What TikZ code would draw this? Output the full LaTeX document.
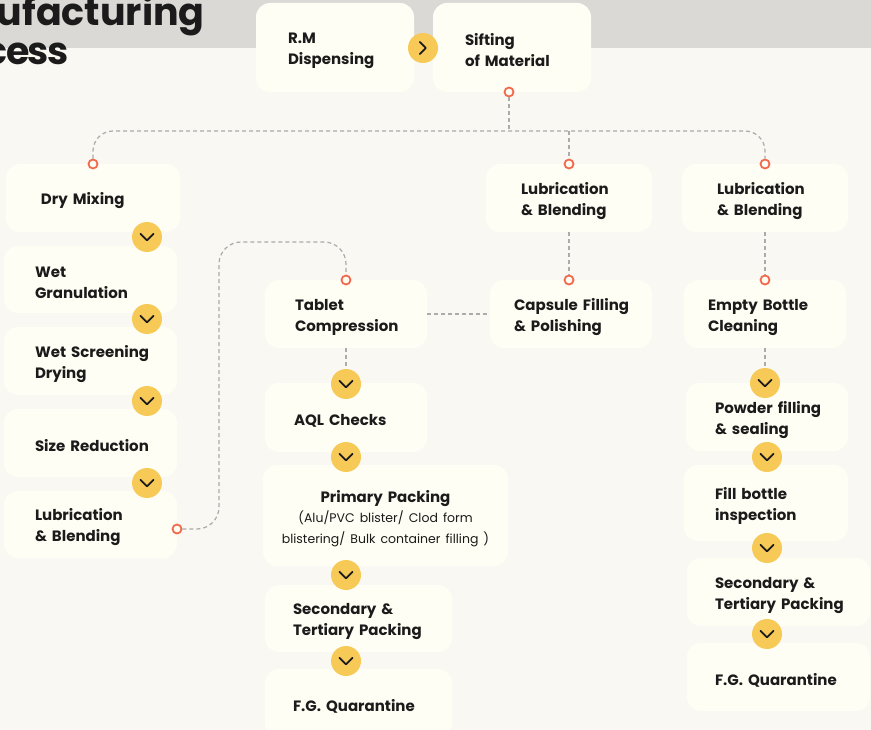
\documentclass[tikz,border=0pt]{standalone}
\usepackage{fontspec}
\setmainfont{Poppins}
\usepackage{xcolor}
\usetikzlibrary{arrows.meta,positioning,calc}

\definecolor{pagecream}{HTML}{FAF8F3}
\definecolor{bandgray}{HTML}{DBD9D5}
\definecolor{boxfill}{HTML}{FEFEF4}
\definecolor{badgeyellow}{HTML}{F7CA58}
\definecolor{ringred}{HTML}{F26A4D}
\definecolor{linkgray}{HTML}{ABABAB}
\definecolor{ink}{HTML}{1C1B1B}

\hyphenpenalty=10000
\exhyphenpenalty=10000
\newcommand{\packnote}{\mdseries\fontsize{12.5}{20}\selectfont}

\begin{document}
\begin{tikzpicture}[x=1pt, y=-1pt,
    stepbox/.style={fill=boxfill, rounded corners=14pt, text=ink, align=left, inner ysep=0pt,
        font=\bfseries\fontsize{15}{21}\selectfont, execute at begin node={\rule{0pt}{18pt}}},
    ring/.style={circle, draw=ringred, line width=1.8pt, fill=boxfill, minimum size=9pt, inner sep=0pt},
    downbadge/.style={circle, fill=badgeyellow, minimum size=30pt, inner sep=0pt,
        path picture={\draw[ink, line width=1.8pt, line cap=round, line join=round]
            ([xshift=-6.5pt, yshift=3.2pt]path picture bounding box.center) -- ++(6.5pt,-6.5pt) -- ++(6.5pt,6.5pt);}},
    rightbadge/.style={circle, fill=badgeyellow, minimum size=30pt, inner sep=0pt,
        path picture={\draw[ink, line width=1.8pt, line cap=round, line join=round]
            ([xshift=-3.2pt, yshift=6pt]path picture bounding box.center) -- ++(6pt,-6pt) -- ++(-6pt,-6pt);}},
    dashlink/.style={draw=linkgray, line width=1.2pt, dash pattern=on 4pt off 3pt}]

    \clip (0,0) rectangle (871,730);

    % Page and top band
    \fill[pagecream] (0,0) rectangle (871,730);
    \fill[bandgray] (0,0) rectangle (871,48);

    % Title (cut at the left edge)
    \node[anchor=base east, inner sep=0pt, text=ink, font=\bfseries\fontsize{38}{38}\selectfont] (titleA) at (205,26) {ufacturing};
    \node[anchor=base east, inner sep=0pt, text=ink, font=\bfseries\fontsize{38}{38}\selectfont] (titleB) at (69,65) {c\kern-1.5pt e\kern-1.5pt s\kern-1.5pt s};

    % Top row
    \node[stepbox, minimum width=158, minimum height=89, text width=94pt] (rm) at (335,47.5) {R.M\\Dispensing};
    \node[stepbox, minimum width=158, minimum height=89, text width=94pt] (sift) at (512,47.5) {Sifting\\of~Material};

    % Tablet line (left column)
    \node[stepbox, minimum width=174, minimum height=68, text width=104pt] (dry) at (93,198) {Dry~Mixing};
    \node[stepbox, minimum width=173, minimum height=67, text width=111pt] (wetg) at (90.5,279.5) {Wet\\Granulation};
    \node[stepbox, minimum width=173, minimum height=68, text width=111pt] (wets) at (90.5,361) {Wet~Screening\\Drying};
    \node[stepbox, minimum width=173, minimum height=68, text width=111pt] (size) at (90.5,443) {Size~Reduction};
    \node[stepbox, minimum width=173, minimum height=67, text width=111pt] (lubL) at (90.5,524.5) {Lubrication\\\&~Blending};

    % Tablet line (middle column)
    \node[stepbox, minimum width=162, minimum height=68, text width=102pt] (tab) at (346,314) {Tablet\\Compression};
    \node[stepbox, minimum width=162, minimum height=69, text width=104pt] (aql) at (346,417.5) {AQL~Checks};
    \node[stepbox, minimum width=245, minimum height=101, text width=235pt, align=center] (prim) at (385.5,515.5)
        {Primary Packing\\{\packnote (Alu/PVC blister/ Clod form\\blistering/ Bulk container filling )}};
    \node[stepbox, minimum width=187, minimum height=67, text width=131pt] (secM) at (358.5,618.5) {Secondary~\&\\Tertiary~Packing};
    \node[stepbox, minimum width=187, minimum height=68, text width=131pt] (fgM) at (358.5,703) {F.G.~Quarantine};

    % Capsule line
    \node[stepbox, minimum width=166, minimum height=68, text width=96pt] (lubM) at (569,198) {Lubrication\\\&~Blending};
    \node[stepbox, minimum width=162, minimum height=68, text width=114pt] (cap) at (571,314) {Capsule~Filling\\\&~Polishing};

    % Bottle line (right column)
    \node[stepbox, minimum width=166, minimum height=68, text width=96pt] (lubR) at (765,198) {Lubrication\\\&~Blending};
    \node[stepbox, minimum width=162, minimum height=68, text width=114pt] (empty) at (765,314) {Empty~Bottle\\Cleaning};
    \node[stepbox, minimum width=162, minimum height=68, text width=104pt] (powd) at (767,417) {Powder~filling\\\&~sealing};
    \node[stepbox, minimum width=164, minimum height=76, text width=102pt] (fill) at (766,503) {Fill~bottle\\inspection};
    \node[stepbox, minimum width=183, minimum height=68, text width=127pt] (secR) at (778.5,592) {Secondary~\&\\Tertiary~Packing};
    \node[stepbox, minimum width=183, minimum height=68, text width=127pt] (fgR) at (778.5,677) {F.G.~Quarantine};

    % Rings
    \node[ring] (rsift) at (509,92) {};
    \node[ring] (rdry) at (93,164) {};
    \node[ring] (rlubM) at (569,164) {};
    \node[ring] (rlubR) at (765,164) {};
    \node[ring] (rlubL) at (177,529) {};
    \node[ring] (rtab) at (346,280) {};
    \node[ring] (rcap) at (569,280) {};
    \node[ring] (rempty) at (765,280) {};

    % Badges
    \node[rightbadge] (bt0) at (423,48) {};
    \node[downbadge] (bl1) at (147,237) {};
    \node[downbadge] (bl2) at (147,319) {};
    \node[downbadge] (bl3) at (147,401) {};
    \node[downbadge] (bl4) at (147,483) {};
    \node[downbadge] (bm1) at (346,384) {};
    \node[downbadge] (bm2) at (346,457) {};
    \node[downbadge] (bm3) at (346,575) {};
    \node[downbadge] (bm4) at (346,661) {};
    \node[downbadge] (br1) at (765,383) {};
    \node[downbadge] (br2) at (767,457) {};
    \node[downbadge] (br3) at (767,548) {};
    \node[downbadge] (br4) at (767,634) {};

    % Dashed links
    \coordinate (bus) at (509,131);
    \coordinate (hop) at (219,242);
    \draw[dashlink] (rsift) -- (bus);
    \draw[dashlink, rounded corners=20pt] (rdry) |- (bus) -| (rlubR);
    \draw[dashlink] (bus -| rlubM) -- (rlubM);
    \draw[dashlink, rounded corners=22pt] (rlubL) -| (hop) -| (rtab);
    \draw[dashlink] (tab) -- (cap);
    \draw[dashlink] (lubM) -- (rcap);
    \draw[dashlink] (lubR) -- (rempty);
    \draw[dashlink] (tab) -- (bm1);
    \draw[dashlink] (empty) -- (br1);
\end{tikzpicture}
\end{document}
